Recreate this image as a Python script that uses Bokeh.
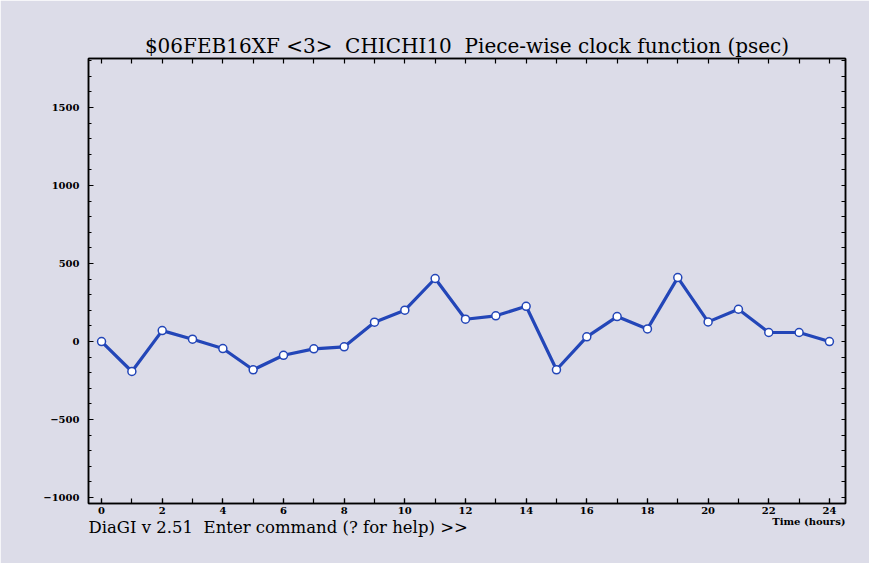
from bokeh.plotting import figure
from bokeh.models import Range1d, LinearAxis, FixedTicker, ColumnDataSource, Title
from bokeh.embed import file_html
from bokeh.resources import INLINE

# ---- data ----
hours = [0, 1, 2, 3, 4, 5, 6, 7, 8, 9, 10, 11, 12, 13, 14, 15, 16, 17, 18, 19, 20, 21, 22, 23, 24]
clock_psec = [0, -192, 70, 15, -45, -181, -88, -47, -34, 124, 201, 404, 143,
              165, 226, -181, 30, 160, 81, 410, 126, 207, 58, 58, 0]

x_ticks = [0, 2, 4, 6, 8, 10, 12, 14, 16, 18, 20, 22, 24]
x_minor = list(range(0, 25))
y_ticks = [-1000, -500, 0, 500, 1000, 1500]
y_labels = ["\u22121000", "\u2212500", "0", "500", "1000", "1500"]
y_minor = list(range(-1000, 1900, 100))

title_text = "$06FEB16XF <3>\u00a0\u00a0CHICHI10\u00a0\u00a0Piece-wise clock function (psec)"
footer_text = "DiaGI v 2.51\u00a0\u00a0Enter command (? for help) >>"
x_label = "Time (hours)"

BG = "#dcdce8"
BLUE = "#2346b8"

X0, X1 = -0.43, 24.53
Y0, Y1 = -1038, 1814

p = figure(width=869, height=563, output_backend="svg", toolbar_location=None,
           x_range=Range1d(X0, X1), y_range=Range1d(Y0, Y1),
           min_border_left=88, min_border_right=24, min_border_top=58, min_border_bottom=60,
           x_axis_type=None, y_axis_type=None)
p.background_fill_color = BG
p.border_fill_color = BG
p.outline_line_color = "black"
p.outline_line_width = 1.5
p.xgrid.visible = False
p.ygrid.visible = False

p.title.text = title_text
p.title.align = "center"
p.title.text_font = "DejaVu Serif"
p.title.text_font_size = "20px"
p.title.text_font_style = "normal"
p.title.text_color = "black"
p.title.standoff = 2


def style_axis(ax, ticks, minor, tick_in, minor_in):
    ax.ticker = FixedTicker(ticks=ticks, minor_ticks=minor)
    ax.axis_line_color = "black"
    ax.axis_line_width = 1.5
    ax.major_tick_in = tick_in
    ax.major_tick_out = 0
    ax.minor_tick_in = minor_in
    ax.minor_tick_out = 0
    ax.major_tick_line_color = "black"
    ax.minor_tick_line_color = "black"
    ax.major_tick_line_width = 1.2
    ax.minor_tick_line_width = 1.2
    ax.major_label_text_font = "DejaVu Serif"
    ax.major_label_text_font_style = "bold"
    ax.major_label_text_font_size = "10px"
    ax.major_label_text_color = "black"


bottom = LinearAxis()
style_axis(bottom, x_ticks, x_minor, 5, 5)
bottom.major_label_standoff = 3
p.add_layout(bottom, "below")

left = LinearAxis()
style_axis(left, y_ticks, y_minor, 5, 3)
left.major_label_standoff = 9
left.major_label_overrides = {t: s for t, s in zip(y_ticks, y_labels)}
p.add_layout(left, "left")

# frame-side axes: tick marks only (no labels)
top = LinearAxis()
style_axis(top, [], x_minor, 5, 5)
p.add_layout(top, "above")

right = LinearAxis()
style_axis(right, [], y_minor, 5, 4)
p.add_layout(right, "right")

src = ColumnDataSource(dict(x=hours, y=clock_psec))
p.line("x", "y", source=src, line_color=BLUE, line_width=3.2)
p.scatter("x", "y", source=src, size=8, marker="circle", fill_color="white",
          line_color=BLUE, line_width=1.5)

t_time = Title(text=x_label, align="right", text_font="DejaVu Serif",
               text_font_style="bold", text_font_size="10px", text_color="black",
               standoff=-6)
p.add_layout(t_time, "below")
t_foot = Title(text=footer_text, align="left", text_font="DejaVu Serif",
               text_font_style="normal", text_font_size="16.5px", text_color="black",
               standoff=-16)
p.add_layout(t_foot, "below")

open("out.html", "w").write(file_html(p, INLINE))
